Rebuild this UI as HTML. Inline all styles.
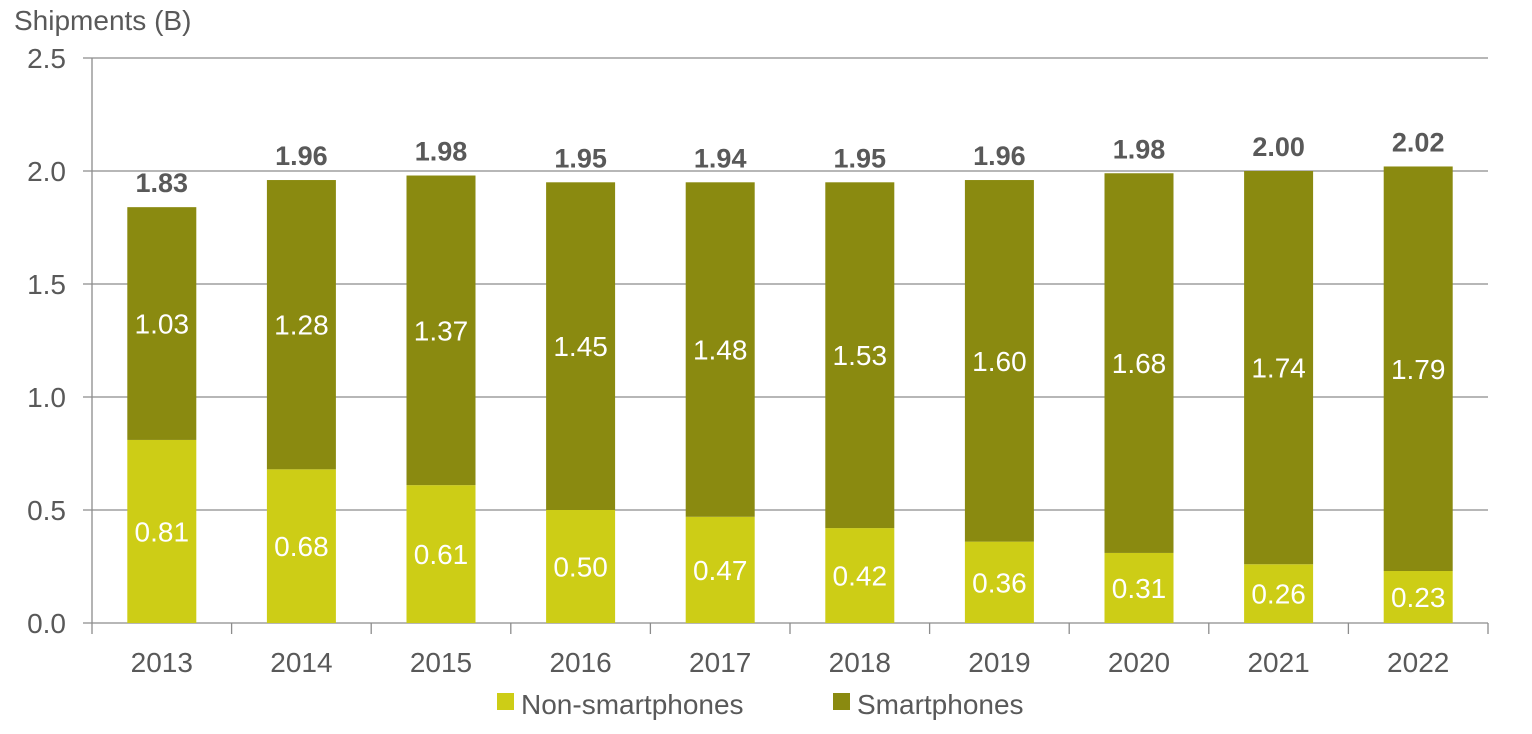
<!DOCTYPE html>
<html><head><meta charset="utf-8"><style>
body{margin:0;background:#fff;}
svg{display:block;font-family:"Liberation Sans",Arial,sans-serif;}
</style></head><body>
<svg id="chart" width="1532" height="734"></svg>
<script>
const years=["2013","2014","2015","2016","2017","2018","2019","2020","2021","2022"];
const nonSmart=[0.81,0.68,0.61,0.50,0.47,0.42,0.36,0.31,0.26,0.23];
const smart=[1.03,1.28,1.37,1.45,1.48,1.53,1.60,1.68,1.74,1.79];
const totals=["1.83","1.96","1.98","1.95","1.94","1.95","1.96","1.98","2.00","2.02"];
const yTicks=[0,0.5,1.0,1.5,2.0,2.5];

const svg=document.getElementById('chart');
const NS='http://www.w3.org/2000/svg';
const x0=92,x1=1488,yBase=623,yTop=58,yMax=2.5;
const band=(x1-x0)/years.length, bw=69;
const y=v=>yBase-(v/yMax)*(yBase-yTop);
const xc=i=>x0+band*(i+0.5);
function mk(tag,attrs,text){const e=document.createElementNS(NS,tag);for(const k in attrs)e.setAttribute(k,attrs[k]);if(text!==undefined)e.textContent=text;svg.appendChild(e);return e;}

yTicks.forEach(t=>{
  const g=mk('line',{x1:83,x2:x1,y1:y(t),y2:y(t),stroke:'#8c8c8c','stroke-width':1.3});
  
  
  const l=mk('text',{x:66,y:y(t)+10,'text-anchor':'end','font-size':28,fill:'#595959'},t.toFixed(1));
  
  
});
const ax=mk('line',{x1:x0,x2:x0,y1:yTop,y2:yBase,stroke:'#8c8c8c','stroke-width':1.3});


for(let i=0;i<=years.length;i++){
  const t=mk('line',{x1:x0+band*i,x2:x0+band*i,y1:yBase,y2:yBase+11,stroke:'#8c8c8c','stroke-width':1.3});
  
  
}
const title=mk('text',{x:14,y:30,'font-size':28,fill:'#595959'},'Shipments (B)');



years.forEach((yr,i)=>{
  const c=xc(i);
  const b1=mk('rect',{x:c-bw/2,y:y(nonSmart[i]),width:bw,height:yBase-y(nonSmart[i]),fill:'#cdcd16'});
  
  
  const top=nonSmart[i]+smart[i];
  const b2=mk('rect',{x:c-bw/2,y:y(top),width:bw,height:y(nonSmart[i])-y(top),fill:'#8a8a10'});
  
  
  const l1=mk('text',{x:c,y:(y(nonSmart[i])+yBase)/2+10,'text-anchor':'middle','font-size':28,fill:'#fff'},nonSmart[i].toFixed(2));
  
  
  const l2=mk('text',{x:c,y:(y(top)+y(nonSmart[i]))/2+10,'text-anchor':'middle','font-size':28,fill:'#fff'},smart[i].toFixed(2));
  
  
  const lt=mk('text',{x:c,y:y(top)-15,'text-anchor':'middle','font-size':27,'font-weight':'bold',fill:'#595959'},totals[i]);
  
  
  const xl=mk('text',{x:c,y:672,'text-anchor':'middle','font-size':28,fill:'#595959'},yr);
  
  
});

const lg1=mk('rect',{x:497,y:693,width:17,height:17,fill:'#cdcd16'});


const lt1=mk('text',{x:521,y:714,'font-size':28,fill:'#595959'},'Non-smartphones');


const lg2=mk('rect',{x:833,y:693,width:17,height:17,fill:'#8a8a10'});


const lt2=mk('text',{x:857,y:714,'font-size':28,fill:'#595959'},'Smartphones');


</script>
</body></html>
